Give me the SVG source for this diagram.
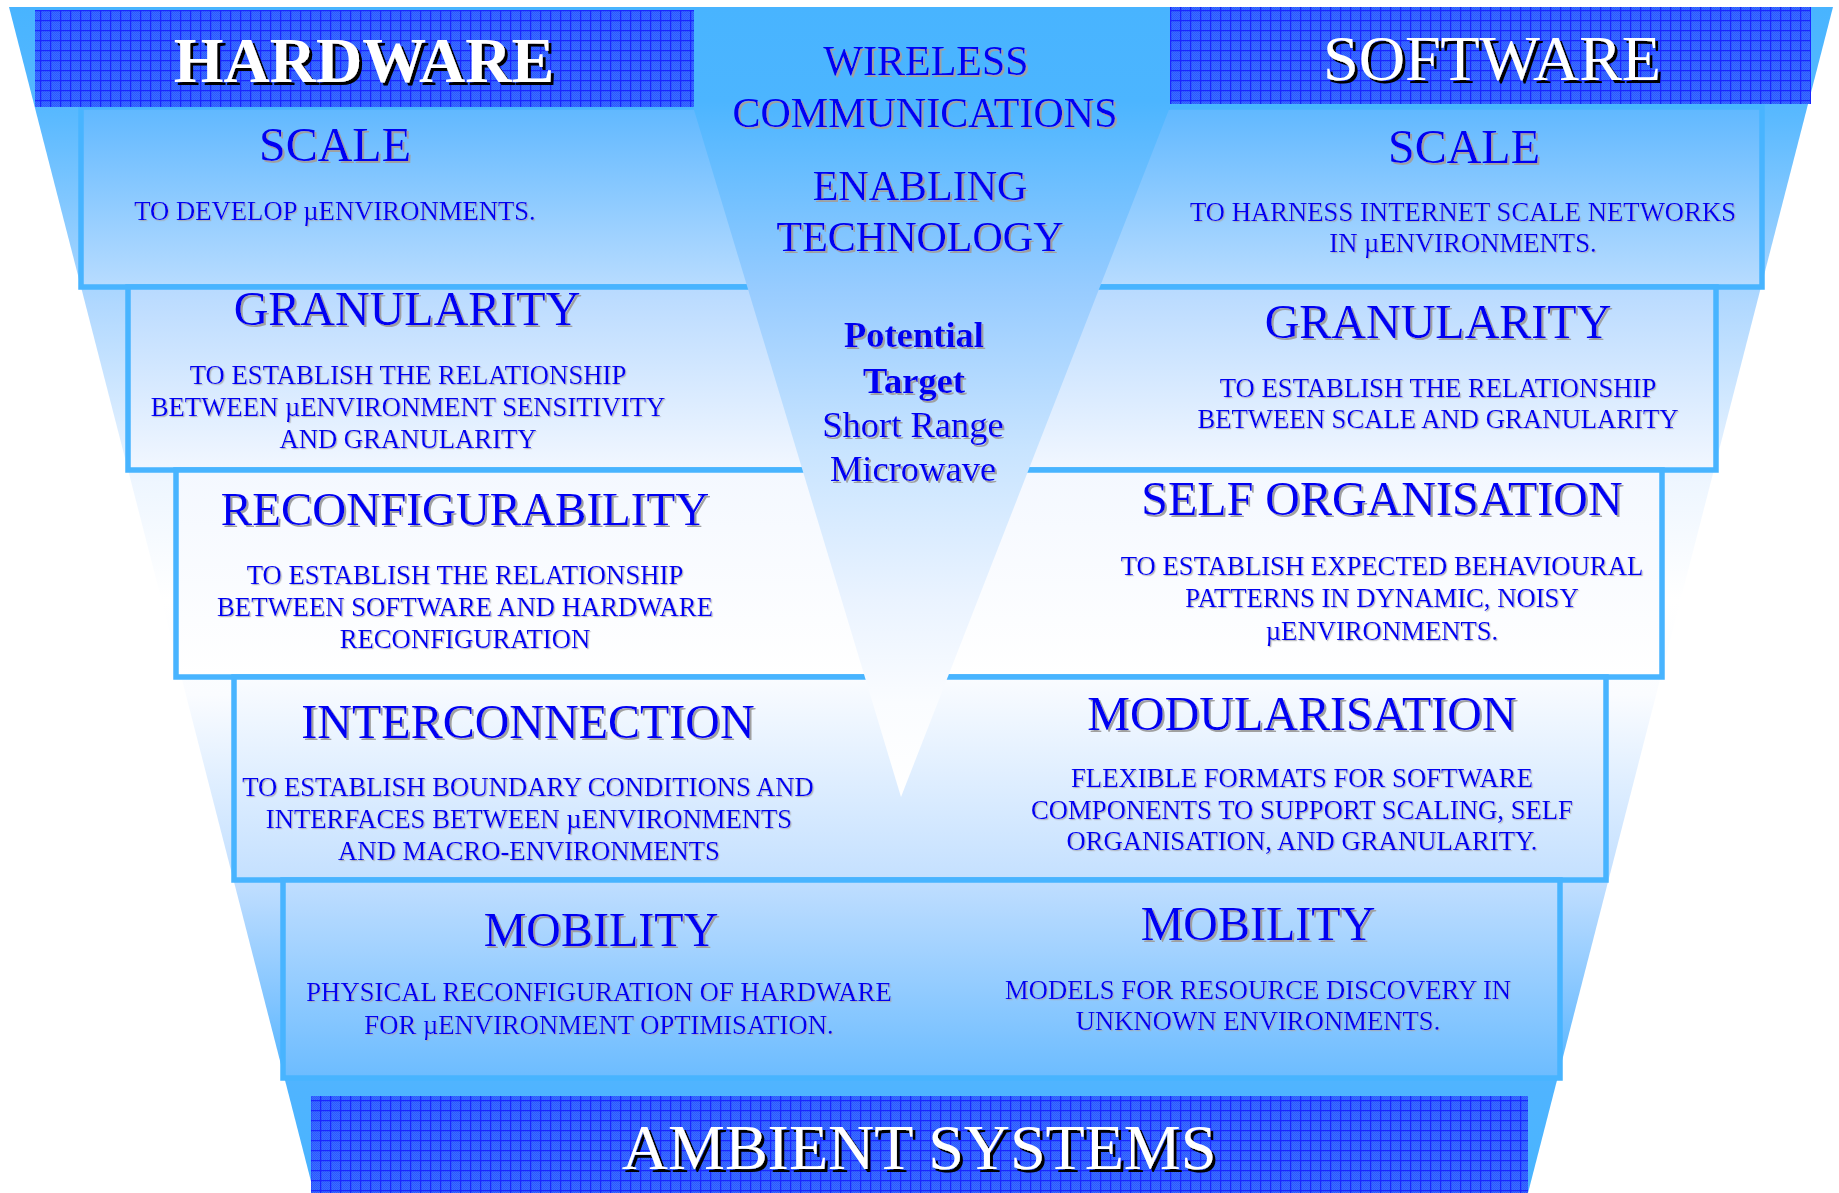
<svg xmlns="http://www.w3.org/2000/svg" width="1839" height="1193" viewBox="0 0 1839 1193">
<defs>
  <linearGradient id="gFunnel" gradientUnits="userSpaceOnUse" x1="0" y1="7" x2="0" y2="1193">
    <stop offset="0" stop-color="#48B4FF"/>
    <stop offset="0.085" stop-color="#56B8FF"/>
    <stop offset="0.25" stop-color="#B0D8FF"/>
    <stop offset="0.40" stop-color="#EEF6FF"/>
    <stop offset="0.50" stop-color="#FFFFFF"/>
    <stop offset="0.58" stop-color="#FAFCFF"/>
    <stop offset="0.74" stop-color="#C0DEFF"/>
    <stop offset="0.84" stop-color="#80C4FF"/>
    <stop offset="0.905" stop-color="#50B4FF"/>
    <stop offset="1" stop-color="#48B4FF"/>
  </linearGradient>
  <linearGradient id="g1" x1="0" y1="0" x2="0" y2="1"><stop offset="0" stop-color="#60B8FF"/><stop offset="1" stop-color="#B8DCFF"/></linearGradient>
  <linearGradient id="g2" x1="0" y1="0" x2="0" y2="1"><stop offset="0" stop-color="#B8DAFF"/><stop offset="1" stop-color="#F2F7FF"/></linearGradient>
  <linearGradient id="g3" x1="0" y1="0" x2="0" y2="1"><stop offset="0" stop-color="#F4F8FF"/><stop offset="1" stop-color="#FFFFFF"/></linearGradient>
  <linearGradient id="g4" x1="0" y1="0" x2="0" y2="1"><stop offset="0" stop-color="#FAFCFF"/><stop offset="1" stop-color="#C4E0FF"/></linearGradient>
  <linearGradient id="g5" x1="0" y1="0" x2="0" y2="1"><stop offset="0" stop-color="#C0DEFF"/><stop offset="1" stop-color="#6CBCFF"/></linearGradient>
  <linearGradient id="gTri" gradientUnits="userSpaceOnUse" x1="0" y1="7" x2="0" y2="797">
    <stop offset="0" stop-color="#48B4FF"/>
    <stop offset="0.12" stop-color="#4CB5FF"/>
    <stop offset="0.36" stop-color="#98CCFF"/>
    <stop offset="0.56" stop-color="#C8E4FF"/>
    <stop offset="0.75" stop-color="#EAF3FF"/>
    <stop offset="0.88" stop-color="#FAFCFF"/>
    <stop offset="1" stop-color="#FFFFFF"/>
  </linearGradient>
  <pattern id="checker" width="2" height="2" patternUnits="userSpaceOnUse">
    <rect width="2" height="2" fill="#3C6EFF"/>
    <rect width="1" height="1" fill="#2A58FF"/>
    <rect x="1" y="1" width="1" height="1" fill="#2A58FF"/>
  </pattern>
  <pattern id="grid" width="10" height="10" patternUnits="userSpaceOnUse">
    <rect width="10" height="10" fill="url(#checker)"/>
    <path d="M0 0.6H10M0.6 0V10" stroke="#1A26FF" stroke-width="1.3" fill="none"/>
  </pattern>
  <filter id="shT" x="-5%" y="-20%" width="112%" height="150%">
    <feDropShadow dx="2" dy="2" stdDeviation="0.4" flood-color="#A0A0A0" flood-opacity="1"/>
  </filter>
  <filter id="shD" x="-5%" y="-20%" width="112%" height="150%">
    <feDropShadow dx="1.2" dy="1.2" stdDeviation="0.3" flood-color="#A8A8A8" flood-opacity="0.8"/>
  </filter>
  <filter id="shB" x="-5%" y="-20%" width="112%" height="150%">
    <feDropShadow dx="3" dy="3" stdDeviation="0.3" flood-color="#000000" flood-opacity="1"/>
  </filter>
</defs>
<style>
  text { font-family: "Liberation Serif", "Times New Roman", serif; text-anchor: middle; }
  .title { font-size: 48px; fill: #0000F2; filter: url(#shT); }
  .desc { font-size: 26.7px; fill: #0000F2; filter: url(#shD); }
  .tech { font-size: 42px; fill: #0000F2; filter: url(#shT); }
  .target { font-size: 36.5px; fill: #0000F2; filter: url(#shT); }
  .bold { font-weight: bold; }
  .banner { fill: url(#grid); }
  .bannertext { font-size: 64px; fill: #FFFFFF; filter: url(#shB); }
  .edge { fill: none; stroke: #48B4FF; stroke-width: 5.5; }
</style>

<g id="funnel">
  <polygon points="9,7 1833,7 1528,1193 314,1193" fill="url(#gFunnel)"/>
</g>

<g id="connectors"></g>

<g id="hw-scale">
  <rect x="81" y="107" width="840" height="180" fill="url(#g1)"/>
  <path class="edge" d="M921,107 H81 V287 H921"/>
  <text class="title" x="335" y="161">SCALE</text>
  <text class="desc" x="335" y="220">TO DEVELOP µENVIRONMENTS.</text>
</g>
<g id="sw-scale">
  <rect x="921" y="107" width="841" height="180" fill="url(#g1)"/>
  <path class="edge" d="M921,107 H1762 V287 H921"/>
  <text class="title" x="1464" y="163">SCALE</text>
  <text class="desc" x="1463" y="221">TO HARNESS INTERNET SCALE NETWORKS</text>
  <text class="desc" x="1463" y="252">IN µENVIRONMENTS.</text>
</g>

<g id="hw-granularity">
  <rect x="128" y="287" width="793" height="183" fill="url(#g2)"/>
  <path class="edge" d="M921,287 H128 V470 H921"/>
  <text class="title" x="407" y="325">GRANULARITY</text>
  <text class="desc" x="408" y="384">TO ESTABLISH THE RELATIONSHIP</text>
  <text class="desc" x="408" y="416">BETWEEN µENVIRONMENT SENSITIVITY</text>
  <text class="desc" x="408" y="448">AND GRANULARITY</text>
</g>
<g id="sw-granularity">
  <rect x="921" y="287" width="795" height="183" fill="url(#g2)"/>
  <path class="edge" d="M921,287 H1716 V470 H921"/>
  <text class="title" x="1438" y="338">GRANULARITY</text>
  <text class="desc" x="1438" y="397">TO ESTABLISH THE RELATIONSHIP</text>
  <text class="desc" x="1438" y="428">BETWEEN SCALE AND GRANULARITY</text>
</g>

<g id="hw-reconfigurability">
  <rect x="176" y="470" width="745" height="207" fill="url(#g3)"/>
  <path class="edge" d="M921,470 H176 V677 H921"/>
  <text class="title" x="465" y="525" style="font-size:47px">RECONFIGURABILITY</text>
  <text class="desc" x="465" y="584">TO ESTABLISH THE RELATIONSHIP</text>
  <text class="desc" x="465" y="616">BETWEEN SOFTWARE AND HARDWARE</text>
  <text class="desc" x="465" y="648">RECONFIGURATION</text>
</g>
<g id="sw-self-organisation">
  <rect x="921" y="470" width="741" height="207" fill="url(#g3)"/>
  <path class="edge" d="M921,470 H1662 V677 H921"/>
  <text class="title" x="1382" y="515">SELF ORGANISATION</text>
  <text class="desc" x="1382" y="575">TO ESTABLISH EXPECTED BEHAVIOURAL</text>
  <text class="desc" x="1382" y="607">PATTERNS IN DYNAMIC, NOISY</text>
  <text class="desc" x="1382" y="640">µENVIRONMENTS.</text>
</g>

<g id="hw-interconnection">
  <rect x="234" y="677" width="687" height="203" fill="url(#g4)"/>
  <path class="edge" d="M921,677 H234 V880 H921"/>
  <text class="title" x="528" y="738">INTERCONNECTION</text>
  <text class="desc" x="528" y="796">TO ESTABLISH BOUNDARY CONDITIONS AND</text>
  <text class="desc" x="529" y="828">INTERFACES BETWEEN µENVIRONMENTS</text>
  <text class="desc" x="529" y="860">AND MACRO-ENVIRONMENTS</text>
</g>
<g id="sw-modularisation">
  <rect x="921" y="677" width="685" height="203" fill="url(#g4)"/>
  <path class="edge" d="M921,677 H1606 V880 H921"/>
  <text class="title" x="1302" y="730">MODULARISATION</text>
  <text class="desc" x="1302" y="787">FLEXIBLE FORMATS FOR SOFTWARE</text>
  <text class="desc" x="1302" y="819">COMPONENTS TO SUPPORT SCALING, SELF</text>
  <text class="desc" x="1302" y="850">ORGANISATION, AND GRANULARITY.</text>
</g>

<g id="hw-mobility">
  <rect x="283" y="880" width="638" height="198" fill="url(#g5)"/>
  <path class="edge" d="M921,880 H283 V1078 H921"/>
  <text class="title" x="601" y="946">MOBILITY</text>
  <text class="desc" x="599" y="1001">PHYSICAL RECONFIGURATION OF HARDWARE</text>
  <text class="desc" x="599" y="1034">FOR µENVIRONMENT OPTIMISATION.</text>
</g>
<g id="sw-mobility">
  <rect x="921" y="880" width="639" height="198" fill="url(#g5)"/>
  <path class="edge" d="M921,880 H1560 V1078 H921"/>
  <text class="title" x="1258" y="940">MOBILITY</text>
  <text class="desc" x="1258" y="999">MODELS FOR RESOURCE DISCOVERY IN</text>
  <text class="desc" x="1258" y="1030">UNKNOWN ENVIRONMENTS.</text>
</g>

<g id="enabling-technology">
  <polygon points="663,7 1209,7 901,797" fill="url(#gTri)"/>
  <text class="tech" x="926" y="75">WIRELESS</text>
  <text class="tech" x="925" y="127">COMMUNICATIONS</text>
  <text class="tech" x="920" y="200">ENABLING</text>
  <text class="tech" x="920" y="251">TECHNOLOGY</text>
  <text class="target bold" x="914" y="347">Potential</text>
  <text class="target bold" x="914" y="393">Target</text>
  <text class="target" x="913" y="437">Short Range</text>
  <text class="target" x="913" y="481">Microwave</text>
</g>

<g id="hardware">
  <rect class="banner" x="35" y="10" width="659" height="97"/>
  <text class="bannertext" x="364" y="82" font-weight="bold">HARDWARE</text>
</g>
<g id="software">
  <rect class="banner" x="1170" y="7" width="641" height="97"/>
  <text class="bannertext" x="1492" y="80">SOFTWARE</text>
</g>
<g id="ambient-systems">
  <rect class="banner" x="311" y="1096" width="1217" height="97"/>
  <text class="bannertext" x="919" y="1169">AMBIENT SYSTEMS</text>
</g>
</svg>
